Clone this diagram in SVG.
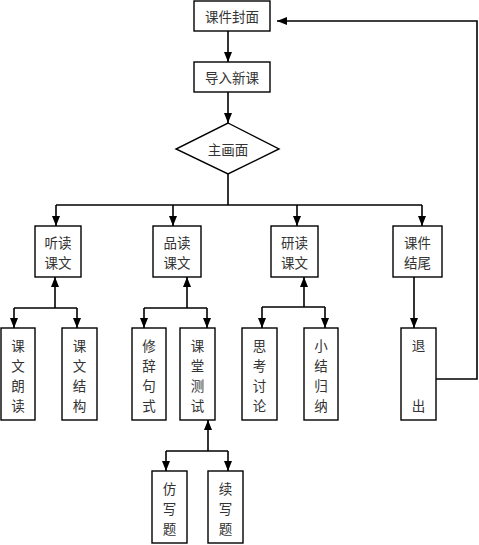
<svg xmlns="http://www.w3.org/2000/svg" width="479" height="545" viewBox="0 0 479 545">
<defs>
<marker id="ah" markerUnits="userSpaceOnUse" markerWidth="10" markerHeight="10" viewBox="0 0 10 10" refX="10" refY="5" orient="auto">
<path d="M0,1 L10,5 L0,9 Z" fill="#000"/>
</marker>
</defs>
<style>
.box{fill:#fff;stroke:#000;stroke-width:1.4}
.t{font-family:"Noto Sans CJK SC","Noto Sans CJK JP",sans-serif;font-size:13.5px;fill:#333;text-anchor:middle;dominant-baseline:central}
.c{fill:none;stroke:#000;stroke-width:1.6}
.a{fill:none;stroke:#000;stroke-width:1.6;marker-end:url(#ah)}
</style>
<rect width="479" height="545" fill="#fff"/>
<g id="connectors">
<line class="a" x1="228" y1="31" x2="228" y2="62"/>
<line class="a" x1="228" y1="92" x2="228" y2="123"/>
<polyline class="c" points="228,174 228,205"/>
<line class="c" x1="56" y1="205" x2="422" y2="205"/>
<line class="a" x1="56" y1="205" x2="56" y2="226"/>
<line class="a" x1="173" y1="205" x2="173" y2="226"/>
<line class="a" x1="297" y1="205" x2="297" y2="226"/>
<line class="a" x1="422" y1="205" x2="422" y2="226"/>
<line class="a" x1="55" y1="308" x2="55" y2="277"/>
<line class="c" x1="14" y1="308" x2="77" y2="308"/>
<line class="a" x1="14" y1="308" x2="14" y2="328"/>
<line class="a" x1="77" y1="308" x2="77" y2="328"/>
<line class="a" x1="187" y1="308" x2="187" y2="277"/>
<line class="c" x1="144" y1="308" x2="207" y2="308"/>
<line class="a" x1="144" y1="308" x2="144" y2="328"/>
<line class="a" x1="207" y1="308" x2="207" y2="328"/>
<line class="a" x1="304" y1="307" x2="304" y2="277"/>
<line class="c" x1="262" y1="307" x2="325" y2="307"/>
<line class="a" x1="262" y1="307" x2="262" y2="328"/>
<line class="a" x1="325" y1="307" x2="325" y2="328"/>
<line class="a" x1="414" y1="277" x2="414" y2="328"/>
<polyline class="a" points="436,379 477,379 477,21 277,21"/>
<line class="a" x1="208" y1="451" x2="208" y2="420"/>
<line class="c" x1="166" y1="451" x2="228" y2="451"/>
<line class="a" x1="166" y1="451" x2="166" y2="471"/>
<line class="a" x1="228" y1="451" x2="228" y2="471"/>
</g>
<g id="n_cover"><rect class="box" x="194" y="1" width="76" height="30"/><text class="t" x="232" y="16">课件封面</text></g>
<g id="n_intro"><rect class="box" x="194" y="62" width="76" height="30"/><text class="t" x="232" y="77">导入新课</text></g>
<g id="n_main"><polygon class="box" points="228,123 279,149 228,174 176,149"/><text class="t" x="228" y="149">主画面</text></g>
<g id="n_listen"><rect class="box" x="35" y="226" width="46" height="51"/><text class="t" x="58" y="242">听读</text><text class="t" x="58" y="262">课文</text></g>
<g id="n_taste"><rect class="box" x="153" y="226" width="48" height="51"/><text class="t" x="177" y="242">品读</text><text class="t" x="177" y="262">课文</text></g>
<g id="n_study"><rect class="box" x="271" y="226" width="47" height="51"/><text class="t" x="294.5" y="242">研读</text><text class="t" x="294.5" y="262">课文</text></g>
<g id="n_end"><rect class="box" x="393" y="226" width="49" height="51"/><text class="t" x="417.5" y="242">课件</text><text class="t" x="417.5" y="262">结尾</text></g>
<g id="n_read"><rect class="box" x="1" y="328" width="34" height="92"/><text class="t" x="18" y="345">课</text><text class="t" x="18" y="365">文</text><text class="t" x="18" y="385">朗</text><text class="t" x="18" y="405">读</text></g>
<g id="n_struct"><rect class="box" x="62" y="328" width="35" height="92"/><text class="t" x="79.5" y="345">课</text><text class="t" x="79.5" y="365">文</text><text class="t" x="79.5" y="385">结</text><text class="t" x="79.5" y="405">构</text></g>
<g id="n_rhet"><rect class="box" x="132" y="328" width="34" height="92"/><text class="t" x="149" y="345">修</text><text class="t" x="149" y="365">辞</text><text class="t" x="149" y="385">句</text><text class="t" x="149" y="405">式</text></g>
<g id="n_test"><rect class="box" x="180" y="328" width="35" height="92"/><text class="t" x="197.5" y="345">课</text><text class="t" x="197.5" y="365">堂</text><text class="t" x="197.5" y="385">测</text><text class="t" x="197.5" y="405">试</text></g>
<g id="n_think"><rect class="box" x="242" y="328" width="35" height="92"/><text class="t" x="259.5" y="345">思</text><text class="t" x="259.5" y="365">考</text><text class="t" x="259.5" y="385">讨</text><text class="t" x="259.5" y="405">论</text></g>
<g id="n_sum"><rect class="box" x="304" y="328" width="34" height="92"/><text class="t" x="321" y="345">小</text><text class="t" x="321" y="365">结</text><text class="t" x="321" y="385">归</text><text class="t" x="321" y="405">纳</text></g>
<g id="n_exit"><rect class="box" x="401" y="328" width="35" height="92"/><text class="t" x="418.5" y="345">退</text><text class="t" x="418.5" y="405">出</text></g>
<g id="n_imit"><rect class="box" x="152" y="471" width="35" height="72"/><text class="t" x="169.5" y="488">仿</text><text class="t" x="169.5" y="508">写</text><text class="t" x="169.5" y="528">题</text></g>
<g id="n_cont"><rect class="box" x="208" y="471" width="35" height="72"/><text class="t" x="225.5" y="488">续</text><text class="t" x="225.5" y="508">写</text><text class="t" x="225.5" y="528">题</text></g>
</svg>
